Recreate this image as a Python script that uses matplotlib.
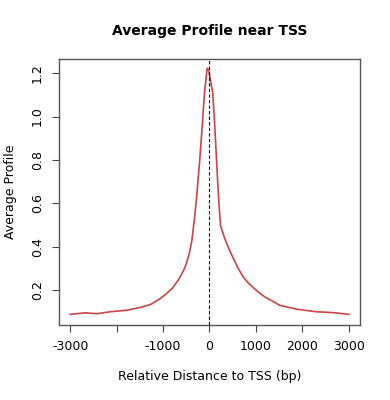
import matplotlib
matplotlib.use("Agg")
import matplotlib.pyplot as plt

# distance to TSS (bp) and average profile
distance = [-3000, -2676, -2424, -2137, -1777, -1489, -1273, -1058, -950, -805,
            -662, -560, -500, -440, -380, -324, -281, -209, -157, -108,
            -50, -20, 20, 71, 114, 151, 188, 237, 330, 420,
            518, 620, 719, 820, 935, 1050, 1187, 1511, 1871, 2303,
            2662, 3000]
profile = [0.089, 0.096, 0.092, 0.101, 0.108, 0.121, 0.134, 0.162, 0.180, 0.208,
           0.250, 0.290, 0.322, 0.365, 0.428, 0.529, 0.620, 0.803, 0.955, 1.108,
           1.223, 1.215, 1.170, 1.108, 0.955, 0.803, 0.652, 0.498, 0.437, 0.390,
           0.345, 0.300, 0.264, 0.237, 0.214, 0.192, 0.170, 0.131, 0.113, 0.101,
           0.097, 0.089]

xticks = [-3000, -2000, -1000, 0, 1000, 2000, 3000]
xticklabels = ["-3000", "", "-1000", "0", "1000", "2000", "3000"]
yticks = [0.2, 0.4, 0.6, 0.8, 1.0, 1.2]

fig = plt.figure(figsize=(3.9, 4.0), dpi=100)
ax = fig.add_axes([0.1513, 0.1875, 0.7717, 0.665])

ax.plot(distance, profile, color="#cc4444", linewidth=1.2)
ax.axvline(0, color="black", linestyle=(0, (3, 2)), linewidth=0.8)

ax.set_xlim(-3240, 3240)
ax.set_ylim(0.04, 1.265)
ax.set_xticks(xticks)
ax.set_xticklabels(xticklabels)
ax.set_yticks(yticks)
ax.set_yticklabels([f"{v:.1f}" for v in yticks], rotation=90, va="center")
ax.tick_params(labelsize=9, length=5, width=0.8, color="#444444", pad=6)

for s in ax.spines.values():
    s.set_color("#555555")
    s.set_linewidth(1.0)

ax.set_xlabel("Relative Distance to TSS (bp)", fontsize=9, labelpad=12)
ax.set_ylabel("Average Profile", fontsize=9, labelpad=10)
ax.set_title("Average Profile near TSS", fontsize=10, fontweight="bold", pad=17)

fig.savefig("out.png", dpi=100)
